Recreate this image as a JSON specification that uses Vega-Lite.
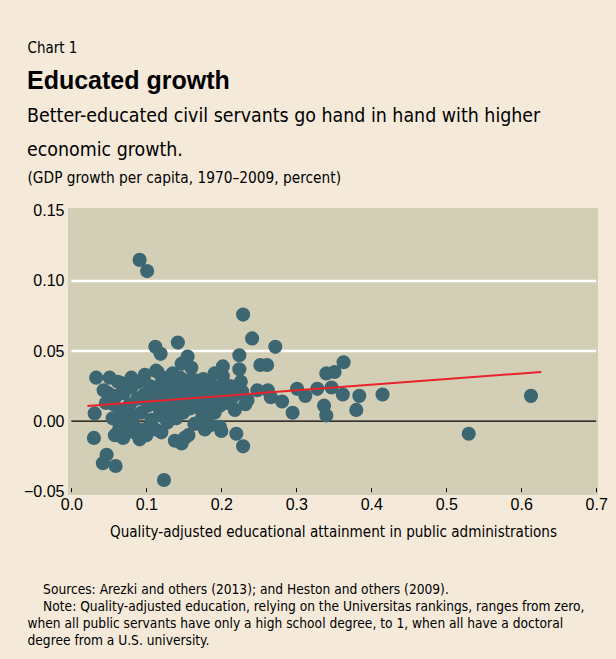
{
  "$schema": "https://vega.github.io/schema/vega-lite/v6.json",
  "autosize": {"type": "none"},
  "width": 530,
  "height": 287,
  "padding": {"left": 68, "top": 208, "right": 18, "bottom": 164},
  "background": "#f5eada",
  "config": {
    "view": {"fill": "#d3ceb6", "stroke": null},
    "axis": {"grid": false, "domain": false, "labelColor": "#000000", "titleColor": "#000000", "titleFontWeight": "normal"}
  },
  "title": {
    "text": "Educated growth",
    "subtitle": ["Better-educated civil servants go hand in hand with higher", "economic growth."],
    "anchor": "start",
    "frame": "group",
    "dx": -41,
    "offset": -119,
    "font": "Liberation Sans",
    "fontSize": 25,
    "fontWeight": "bold",
    "color": "#000000",
    "subtitleFont": "DejaVu Sans Condensed, Liberation Sans",
    "subtitleFontSize": 19.4,
    "subtitleColor": "#000000",
    "subtitleLineHeight": 34,
    "subtitlePadding": 13
  },
  "datasets": {
    "countries": [
      {"edu": 0.091, "growth": 0.115}, {"edu": 0.101, "growth": 0.107}, {"edu": 0.229, "growth": 0.076},
      {"edu": 0.241, "growth": 0.059}, {"edu": 0.112, "growth": 0.053}, {"edu": 0.119, "growth": 0.048},
      {"edu": 0.142, "growth": 0.056}, {"edu": 0.155, "growth": 0.046}, {"edu": 0.160, "growth": 0.038},
      {"edu": 0.224, "growth": 0.047}, {"edu": 0.224, "growth": 0.037}, {"edu": 0.226, "growth": 0.028},
      {"edu": 0.272, "growth": 0.053}, {"edu": 0.252, "growth": 0.040}, {"edu": 0.261, "growth": 0.040},
      {"edu": 0.202, "growth": 0.039}, {"edu": 0.363, "growth": 0.042}, {"edu": 0.340, "growth": 0.034},
      {"edu": 0.351, "growth": 0.035}, {"edu": 0.301, "growth": 0.023}, {"edu": 0.328, "growth": 0.023},
      {"edu": 0.347, "growth": 0.024}, {"edu": 0.362, "growth": 0.019}, {"edu": 0.384, "growth": 0.018},
      {"edu": 0.380, "growth": 0.008}, {"edu": 0.415, "growth": 0.019}, {"edu": 0.295, "growth": 0.006},
      {"edu": 0.337, "growth": 0.011}, {"edu": 0.340, "growth": 0.004}, {"edu": 0.312, "growth": 0.018},
      {"edu": 0.281, "growth": 0.014}, {"edu": 0.262, "growth": 0.022}, {"edu": 0.248, "growth": 0.022},
      {"edu": 0.266, "growth": 0.017}, {"edu": 0.235, "growth": 0.015}, {"edu": 0.200, "growth": -0.007},
      {"edu": 0.220, "growth": -0.009}, {"edu": 0.229, "growth": -0.018}, {"edu": 0.033, "growth": 0.031},
      {"edu": 0.031, "growth": 0.0055}, {"edu": 0.030, "growth": -0.012}, {"edu": 0.047, "growth": -0.024},
      {"edu": 0.042, "growth": -0.030}, {"edu": 0.059, "growth": -0.032}, {"edu": 0.1235, "growth": -0.042},
      {"edu": 0.138, "growth": -0.014}, {"edu": 0.147, "growth": -0.016}, {"edu": 0.156, "growth": -0.010},
      {"edu": 0.128, "growth": -0.001}, {"edu": 0.530, "growth": -0.009}, {"edu": 0.613, "growth": 0.018},
      {"edu": 0.051, "growth": 0.031}, {"edu": 0.067, "growth": 0.027}, {"edu": 0.075, "growth": 0.027},
      {"edu": 0.098, "growth": 0.033}, {"edu": 0.115, "growth": 0.035}, {"edu": 0.049, "growth": 0.020},
      {"edu": 0.055, "growth": 0.002}, {"edu": 0.058, "growth": -0.010}, {"edu": 0.069, "growth": -0.012},
      {"edu": 0.084, "growth": -0.004}, {"edu": 0.091, "growth": -0.013}, {"edu": 0.100, "growth": -0.010},
      {"edu": 0.151, "growth": -0.012}, {"edu": 0.124, "growth": 0.017}, {"edu": 0.151, "growth": 0.029},
      {"edu": 0.135, "growth": 0.034}, {"edu": 0.113, "growth": 0.036}, {"edu": 0.167, "growth": 0.029},
      {"edu": 0.184, "growth": 0.027}, {"edu": 0.202, "growth": 0.032}, {"edu": 0.191, "growth": 0.034},
      {"edu": 0.147, "growth": 0.041}, {"edu": 0.198, "growth": -0.004}, {"edu": 0.173, "growth": 0.001},
      {"edu": 0.198, "growth": 0.011}, {"edu": 0.104, "growth": -0.004}, {"edu": 0.087, "growth": -0.009},
      {"edu": 0.060, "growth": 0.018}, {"edu": 0.065, "growth": 0.008}, {"edu": 0.070, "growth": 0.020},
      {"edu": 0.072, "growth": -0.002}, {"edu": 0.078, "growth": 0.012}, {"edu": 0.080, "growth": 0.024},
      {"edu": 0.083, "growth": 0.004}, {"edu": 0.088, "growth": 0.016}, {"edu": 0.090, "growth": 0.028},
      {"edu": 0.093, "growth": 0.006}, {"edu": 0.095, "growth": -0.006}, {"edu": 0.097, "growth": 0.019},
      {"edu": 0.102, "growth": 0.011}, {"edu": 0.105, "growth": 0.025}, {"edu": 0.107, "growth": 0.001},
      {"edu": 0.110, "growth": 0.016}, {"edu": 0.112, "growth": -0.006}, {"edu": 0.115, "growth": 0.022},
      {"edu": 0.118, "growth": 0.008}, {"edu": 0.121, "growth": 0.029}, {"edu": 0.123, "growth": 0.003},
      {"edu": 0.126, "growth": 0.013}, {"edu": 0.130, "growth": 0.023}, {"edu": 0.132, "growth": 0.007},
      {"edu": 0.135, "growth": 0.018}, {"edu": 0.138, "growth": 0.028}, {"edu": 0.140, "growth": 0.002},
      {"edu": 0.143, "growth": 0.012}, {"edu": 0.146, "growth": 0.022}, {"edu": 0.149, "growth": 0.006},
      {"edu": 0.152, "growth": 0.017}, {"edu": 0.155, "growth": 0.026}, {"edu": 0.158, "growth": 0.009},
      {"edu": 0.161, "growth": 0.019}, {"edu": 0.164, "growth": -0.002}, {"edu": 0.167, "growth": 0.014},
      {"edu": 0.170, "growth": 0.024}, {"edu": 0.173, "growth": 0.008}, {"edu": 0.176, "growth": 0.018},
      {"edu": 0.179, "growth": 0.003}, {"edu": 0.182, "growth": 0.021}, {"edu": 0.185, "growth": 0.012},
      {"edu": 0.188, "growth": 0.025}, {"edu": 0.191, "growth": 0.006}, {"edu": 0.194, "growth": 0.017},
      {"edu": 0.197, "growth": 0.024}, {"edu": 0.205, "growth": 0.020}, {"edu": 0.208, "growth": 0.013},
      {"edu": 0.212, "growth": 0.025}, {"edu": 0.215, "growth": 0.017}, {"edu": 0.218, "growth": 0.008},
      {"edu": 0.222, "growth": 0.020}, {"edu": 0.062, "growth": 0.028}, {"edu": 0.056, "growth": 0.012},
      {"edu": 0.046, "growth": 0.013}, {"edu": 0.043, "growth": 0.022}, {"edu": 0.075, "growth": -0.008},
      {"edu": 0.080, "growth": 0.031}, {"edu": 0.128, "growth": 0.031}, {"edu": 0.145, "growth": 0.031},
      {"edu": 0.160, "growth": 0.030}, {"edu": 0.176, "growth": 0.030}, {"edu": 0.178, "growth": -0.006},
      {"edu": 0.185, "growth": -0.003}, {"edu": 0.120, "growth": -0.008}, {"edu": 0.064, "growth": -0.005},
      {"edu": 0.070, "growth": 0.003}, {"edu": 0.228, "growth": 0.021}, {"edu": 0.232, "growth": 0.012}
    ],
    "fit": [{"edu": 0.0213, "growth": 0.0107}, {"edu": 0.6267, "growth": 0.0351}],
    "gridWhite": [{"level": 0.05}, {"level": 0.10}],
    "gridZero": [{"level": 0.0}]
  },
  "resolve": {"axis": {"x": "independent", "y": "independent"}},
  "layer": [
    {
      "data": {"name": "gridWhite"},
      "mark": {"type": "rule", "color": "#ffffff", "strokeWidth": 2.5},
      "encoding": {
        "y": {
          "field": "level", "type": "quantitative",
          "scale": {"domain": [-0.0527, 0.152], "nice": false, "zero": false},
          "axis": {
            "orient": "left",
            "values": [-0.05, 0, 0.05, 0.1, 0.15],
            "format": ".2f",
            "ticks": false,
            "labelPadding": 4,
            "labelFont": "Liberation Sans",
            "labelFontSize": 16,
            "title": "(GDP growth per capita, 1970\u20132009, percent)",
            "titleAngle": 0,
            "titleAlign": "left",
            "titleBaseline": "alphabetic",
            "titleX": -41,
            "titleY": -26,
            "titleFont": "DejaVu Sans Condensed, Liberation Sans",
            "titleFontSize": 15.3
          }
        },
        "x": {
          "datum": 0, "type": "quantitative",
          "scale": {"domain": [-0.00453, 0.7024], "nice": false, "zero": false},
          "axis": {
            "orient": "bottom",
            "values": [0, 0.1, 0.2, 0.3, 0.4, 0.5, 0.6, 0.7],
            "format": ".1f",
            "offset": -3.3,
            "tickSize": -4,
            "tickColor": "#000000",
            "tickWidth": 1,
            "labelFlush": false,
            "labelPadding": 9,
            "labelFont": "Liberation Sans",
            "labelFontSize": 16,
            "title": "Quality-adjusted educational attainment in public administrations",
            "titleFont": "DejaVu Sans Condensed, Liberation Sans",
            "titleFontSize": 15.1,
            "titleBaseline": "alphabetic",
            "titleY": 45
          }
        },
        "x2": {"datum": 0.7}
      }
    },
    {
      "data": {"name": "gridZero"},
      "mark": {"type": "rule", "color": "#000000", "strokeWidth": 1.3},
      "encoding": {
        "y": {"field": "level", "type": "quantitative", "axis": null},
        "x": {"datum": 0, "type": "quantitative", "axis": null},
        "x2": {"datum": 0.7}
      }
    },
    {
      "data": {"name": "countries"},
      "mark": {"type": "circle", "color": "#3d6673", "opacity": 1, "size": 200},
      "encoding": {
        "x": {
          "field": "edu", "type": "quantitative",
          "axis": {
            "orient": "bottom",
            "labels": false,
            "ticks": false,
            "title": ["\u200b\u00a0\u00a0\u00a0\u00a0Sources: Arezki and others (2013); and Heston and others (2009).", "\u200b\u00a0\u00a0\u00a0\u00a0Note: Quality-adjusted education, relying on the Universitas rankings, ranges from zero,", "when all public servants have only a high school degree, to 1, when all have a doctoral", "degree from a U.S. university."],
            "titleFont": "DejaVu Sans Condensed, Liberation Sans",
            "titleFontSize": 13.65,
            "titleLineHeight": 17,
            "titleAlign": "left",
            "titleAnchor": "start",
            "titleBaseline": "alphabetic",
            "titleX": -41,
            "titleY": 98
          }
        },
        "y": {
          "field": "growth", "type": "quantitative",
          "axis": {
            "orient": "left",
            "labels": false,
            "ticks": false,
            "title": "Chart 1",
            "titleAngle": 0,
            "titleAlign": "left",
            "titleBaseline": "alphabetic",
            "titleX": -41,
            "titleY": -156,
            "titleFont": "DejaVu Sans Condensed, Liberation Sans",
            "titleFontSize": 15
          }
        }
      }
    },
    {
      "data": {"name": "fit"},
      "mark": {"type": "line", "color": "#e8232b", "strokeWidth": 2},
      "encoding": {
        "x": {"field": "edu", "type": "quantitative", "axis": null},
        "y": {"field": "growth", "type": "quantitative", "axis": null}
      }
    }
  ]
}
